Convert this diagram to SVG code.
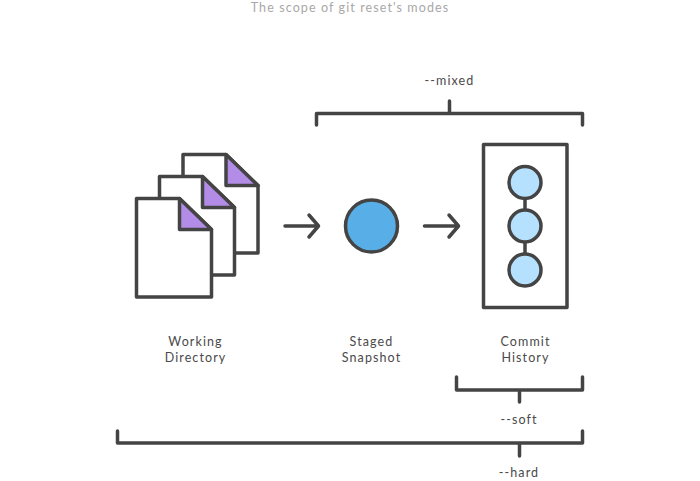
<svg xmlns="http://www.w3.org/2000/svg" width="700" height="481" viewBox="0 0 700 481">
<style>
.s{fill:none;stroke:#444;stroke-width:3.500;stroke-linecap:round;stroke-linejoin:round}
.p{fill:#fff;stroke:#444;stroke-width:3.500;stroke-linejoin:round}
.f{fill:#b28ce6;stroke:#444;stroke-width:3.500;stroke-linejoin:round}
.c{fill:#b5e1ff;stroke:#444;stroke-width:3.500}
text{font-family:"Lato","Open Sans",sans-serif;font-size:12.500px;letter-spacing:1.100px;fill:#4a4a4a;text-anchor:middle}
</style>
<defs>
<g id="doc"><path class="p" d="M0 0H43L75 31V98.500H0Z"/><path class="f" d="M43 0L75 31H43Z"/></g>
</defs>
<rect width="700" height="481" fill="#fff"/>
<text id="title" x="350" y="12" style="fill:#a8a8a8">The scope of git reset's modes</text>
<g id="working-directory">
<use href="#doc" x="183" y="154.500"/>
<use href="#doc" x="159.500" y="176.500"/>
<use href="#doc" x="136.500" y="198.500"/>
<text x="195.500" y="346">Working</text><text x="195.500" y="362">Directory</text>
</g>
<g id="staged-snapshot">
<circle cx="371.500" cy="226" r="26" fill="#58aee6" stroke="#444" stroke-width="3.500"/>
<text x="371.500" y="346">Staged</text><text x="371.500" y="362">Snapshot</text>
</g>
<g id="commit-history">
<rect x="483.500" y="144.500" width="83.500" height="163" fill="#fff" stroke="#444" stroke-width="3.500" stroke-linejoin="round"/>
<path class="s" d="M525 198V210M525 242V254"/>
<circle class="c" cx="525" cy="182.500" r="16"/><circle class="c" cx="525" cy="226" r="16"/><circle class="c" cx="525" cy="270" r="16"/>
<text x="525.500" y="346">Commit</text><text x="525.500" y="362">History</text>
</g>
<g id="connectors">
<path class="s" d="M285 226H318M309 215L318.500 226L309 237"/>
<path class="s" d="M424.500 226H458M449 215L458.500 226L449 237"/>
</g>
<g id="mixed"><path class="s" d="M316.500 125V113.500H582.500V125M449.500 113.500V101"/><text x="449.500" y="85">--mixed</text></g>
<g id="soft"><path class="s" d="M456.500 377V390H582.500V377M519.500 390V402"/><text x="519" y="424">--soft</text></g>
<g id="hard"><path class="s" d="M117.500 431V443H582.500V431M519.500 443V456"/><text x="519" y="477">--hard</text></g>
</svg>
